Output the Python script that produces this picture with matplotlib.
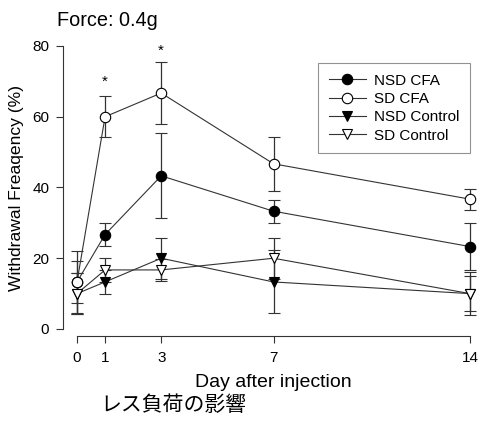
import numpy as np
import matplotlib

matplotlib.use("Agg")
from matplotlib import pyplot as plt
from matplotlib.lines import Line2D

plt.rcParams["font.family"] = ["Liberation Sans", "DejaVu Sans"]

days = [0, 1, 3, 7, 14]

nsd_cfa = [13.3, 26.7, 43.3, 33.3, 23.3]
nsd_cfa_err = [6.0, 3.3, 12.0, 3.3, 6.7]

sd_cfa = [13.3, 60.0, 66.7, 46.7, 36.7]
sd_cfa_err = [8.7, 5.8, 8.7, 7.6, 3.0]

nsd_ctrl = [10.0, 13.3, 20.0, 13.3, 10.0]
nsd_ctrl_err = [5.8, 3.3, 5.8, 8.9, 5.0]

sd_ctrl = [10.0, 16.7, 16.7, 20.0, 10.0]
sd_ctrl_err = [5.8, 3.3, 3.0, 5.8, 6.0]

labels = ["NSD CFA", "SD CFA", "NSD Control", "SD Control"]
sig_days = [1, 3]
sig_y = [70.0, 78.7]

xtick_vals = [0, 1, 3, 7, 14]
ytick_vals = [0, 20, 40, 60, 80]

LINE = "#333333"


def main():
    fig = plt.figure(figsize=(4.8, 4.21), dpi=100)
    ax = fig.add_axes([77 / 480, (421 - 329) / 421, 393 / 480, 283 / 421])

    series = [
        (nsd_cfa, nsd_cfa_err, "o", "black"),
        (sd_cfa, sd_cfa_err, "o", "white"),
        (nsd_ctrl, nsd_ctrl_err, "v", "black"),
        (sd_ctrl, sd_ctrl_err, "v", "white"),
    ]
    handles = []
    for (y, err, mk, fc), lab in zip(series, labels):
        ax.errorbar(days, y, yerr=err, color=LINE, lw=0.8, elinewidth=0.9,
                    capsize=4, capthick=0.9, marker=mk, markersize=7.5,
                    markerfacecolor=fc, markeredgecolor="black",
                    markeredgewidth=0.8, clip_on=False, zorder=3)
        handles.append(Line2D([], [], color=LINE, lw=0.8, marker=mk,
                              markersize=7.5, markerfacecolor=fc,
                              markeredgecolor="black", markeredgewidth=0.8,
                              label=lab))

    for d, yy in zip(sig_days, sig_y):
        ax.text(d, yy, "*", ha="center", va="center", fontsize=11)

    ax.set_xlim(0, 14)
    ax.set_ylim(0, 80)
    ax.set_xticks(xtick_vals)
    ax.set_yticks(ytick_vals)
    ax.tick_params(direction="out", length=5, width=0.8, colors=LINE,
                   labelcolor="black", labelsize=11)
    ax.tick_params(axis="x", pad=6)
    ax.tick_params(axis="y", pad=5)

    for s in ("top", "right"):
        ax.spines[s].set_visible(False)
    ax.spines["left"].set_position(("outward", 10))
    ax.spines["bottom"].set_position(("outward", 5))
    for s in ("left", "bottom"):
        ax.spines[s].set_color(LINE)
        ax.spines[s].set_linewidth(0.8)

    ax.set_xlabel("Day after injection", fontsize=14, labelpad=6)
    ax.set_ylabel("Withdrawal Freaqency (%)", fontsize=12.6, labelpad=6)
    fig.text(57 / 480, 1 - 20 / 421, "Force: 0.4g", fontsize=14.3,
             ha="left", va="center")

    leg = ax.legend(handles=handles, loc="upper right",
                    bbox_to_anchor=(1.0, 0.94),
                    fontsize=11, frameon=True, fancybox=False,
                    handlelength=2.4, labelspacing=0.28, borderpad=0.7,
                    handletextpad=0.55, borderaxespad=0.0)
    leg.get_frame().set_edgecolor("#777777")
    leg.get_frame().set_linewidth(0.8)

    fig.text(100 / 480, 1 - 405 / 421, "レス負荷の影響", fontsize=15,
             family=["Noto Sans CJK JP", "DejaVu Sans"],
             ha="left", va="center")

    fig.savefig("out.png", dpi=100)


if __name__ == "__main__":
    main()
